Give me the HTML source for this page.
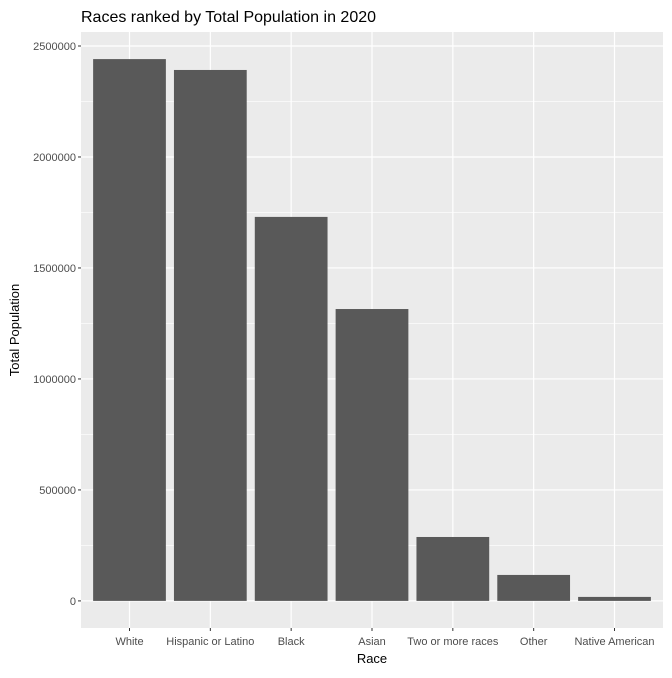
<!DOCTYPE html>
<html><head><meta charset="utf-8"><style>
body{margin:0;background:#fff;font-family:"Liberation Sans",Arial,sans-serif;}
</style></head><body>
<svg id="chart" width="672" height="673" xmlns="http://www.w3.org/2000/svg">
<text x="81" y="22" font-size="16" fill="#000">Races ranked by Total Population in 2020</text>
<rect x="81" y="32" width="582" height="596" fill="#ebebeb"/>
<g id="grid"></g><g id="bars"></g><g id="axes"></g>
<text x="372" y="663" font-size="13" text-anchor="middle" fill="#000">Race</text>
<text transform="translate(19,330) rotate(-90)" font-size="13" text-anchor="middle" fill="#000">Total Population</text>
</svg>
<script>
const categories=["White","Hispanic or Latino","Black","Asian","Two or more races","Other","Native American"];
const values=[2441000,2392000,1730000,1315000,288000,117000,18000];
const yTicks=[0,500000,1000000,1500000,2000000,2500000];
const tickLabels=["0","500000","1000000","1500000","2000000","2500000"];
const NS="http://www.w3.org/2000/svg";
const pL=81,pR=663,pT=32,pB=628;
const ymax=Math.max(...values),pad=ymax*0.05;
function y(v){return pB-(v+pad)/(ymax+2*pad)*(pB-pT);}
const n=categories.length,step=(pR-pL)/(n-1+1.2);
function x(i){return pL+step*(0.6+i);}
function mk(tag,attrs,parent){const e=document.createElementNS(NS,tag);for(const k in attrs)e.setAttribute(k,attrs[k]);parent.appendChild(e);return e;}
const grid=document.getElementById('grid'),bars=document.getElementById('bars'),axes=document.getElementById('axes');
for(let i=0;i<yTicks.length-1;i++){const m=(yTicks[i]+yTicks[i+1])/2;
const l=mk('line',{x1:pL,x2:pR,y1:y(m),y2:y(m),stroke:'#fff','stroke-width':0.6},grid);

}
yTicks.forEach((t,i)=>{const l=mk('line',{x1:pL,x2:pR,y1:y(t),y2:y(t),stroke:'#fff','stroke-width':1.2},grid);


const tk=mk('line',{x1:pL-3,x2:pL,y1:y(t),y2:y(t),stroke:'#333','stroke-width':1},axes);


const tx=mk('text',{x:pL-5,y:y(t)+4,'font-size':11,'text-anchor':'end',fill:'#4d4d4d'},axes);tx.textContent=tickLabels[i];

});
categories.forEach((c,i)=>{const g=mk('line',{x1:x(i),x2:x(i),y1:pT,y2:pB,stroke:'#fff','stroke-width':1.2},grid);


const w=step*0.9;
const b=mk('rect',{x:x(i)-w/2,y:y(values[i]),width:w,height:y(0)-y(values[i]),fill:'#595959'},bars);


const tk=mk('line',{x1:x(i),x2:x(i),y1:pB,y2:pB+3,stroke:'#333','stroke-width':1},axes);


const tx=mk('text',{x:x(i),y:pB+17,'font-size':11,'text-anchor':'middle',fill:'#4d4d4d'},axes);tx.textContent=c;

});
</script>
</body></html>
